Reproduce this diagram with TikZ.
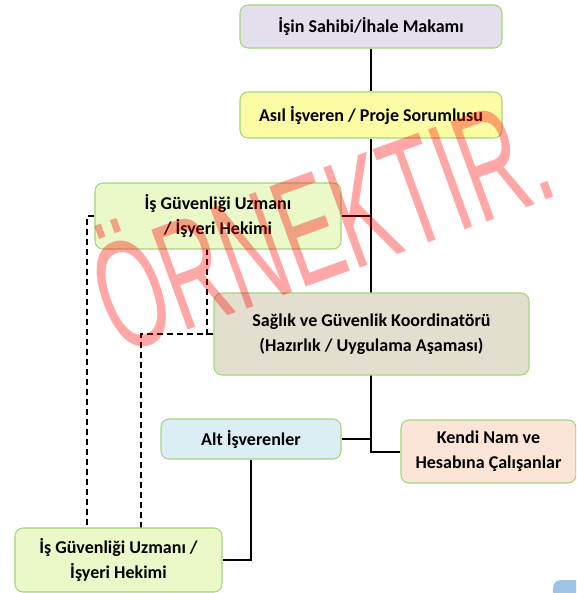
\documentclass[tikz,border=0pt]{standalone}
\usepackage{fontspec}
\setmainfont{Carlito}
\newfontfamily\stampfont{Liberation Sans}
\usetikzlibrary{backgrounds}
\definecolor{boxline}{HTML}{A3D67A}
\definecolor{lavender}{HTML}{E4DFEC}
\definecolor{paleyellow}{HTML}{FCFCA4}
\definecolor{palegreen}{HTML}{EBF8C8}
\definecolor{paletan}{HTML}{E3DFCF}
\definecolor{paleblue}{HTML}{DAEEF3}
\definecolor{palepeach}{HTML}{FCE4D6}
\definecolor{cornerblue}{HTML}{9DC3E6}

\begin{document}
\begin{tikzpicture}[x=0.75pt,y=-0.75pt,font=\fontsize{13.5}{19}\selectfont\bfseries,
		box/.style={draw=boxline, line width=.8pt, rounded corners=6pt, align=center, inner sep=2pt},
		link/.style={line width=1.5pt},
		dashlink/.style={line width=1.1pt, dash pattern=on 4.5pt off 3pt},
		stamp/.style={font=\stampfont\fontsize{116}{116}\selectfont, text=red, text opacity=.35, inner sep=0pt}]
			% frame of the picture
			\useasboundingbox (0,0) rectangle (576,593);
			\clip (0,0) rectangle (576,593);
			
			% draw boxes
			\node[box, fill=lavender, minimum width=196.5pt, minimum height=32.25pt] (owner) at (371,26.5) {İşin Sahibi/İhale Makamı};
			\node[box, fill=paleyellow, minimum width=196.5pt, minimum height=34.5pt] (employer) at (371,115) {Asıl İşveren / Proje Sorumlusu};
			\node[box, fill=palegreen, minimum width=184.5pt, minimum height=49.5pt] (ohstop) at (218,216) {İş Güvenliği Uzmanı\\/ İşyeri Hekimi};
			\node[box, fill=paletan, minimum width=236.25pt, minimum height=61.5pt] (coord) at (371.5,334) {Sağlık ve Güvenlik Koordinatörü\\(Hazırlık / Uygulama Aşaması)};
			\node[box, fill=paleblue, minimum width=135pt, minimum height=30pt] (subcon) at (251,439) {Alt İşverenler};
			\node[box, fill=palepeach, minimum width=131.25pt, minimum height=47.25pt] (selfemp) at (488.5,451.5) {Kendi Nam ve\\Hesabına Çalışanlar};
			\node[box, fill=palegreen, minimum width=155.25pt, minimum height=48pt] (ohsbot) at (118.5,560) {İş Güvenliği Uzmanı /\\İşyeri Hekimi};
			
			% cut-off shape in the corner
			\fill[cornerblue, rounded corners=6pt] (553,580) rectangle (600,620);
			
			% ends of the dashed links
			\coordinate (dl) at (87,528);
			\coordinate (dr) at (141,528);
			\coordinate (dt) at (207,249);
			
			% draw links
			\begin{scope}[on background layer]
				\draw[link] (owner) -- (employer);
				\draw[link] (employer.south) |- (selfemp.west);
				\draw[link] (ohstop.east) -- (ohstop.east -| employer.south);
				\draw[link] (subcon.east) -- (subcon.east -| employer.south);
				\draw[link] (subcon.south) |- (ohsbot.east);
				\draw[dashlink] (ohstop.west) -| (dl);
				\draw[dashlink] (dt) |- (coord.west);
				\draw[dashlink] (coord.west) -| (dr);
			\end{scope}
			
			%%%watermark
			\node[stamp, rotate=20] (mark) at (318,215) {\scalebox{.56}[1]{ÖRNEKTIR.}};
		\end{tikzpicture}
\end{document}
